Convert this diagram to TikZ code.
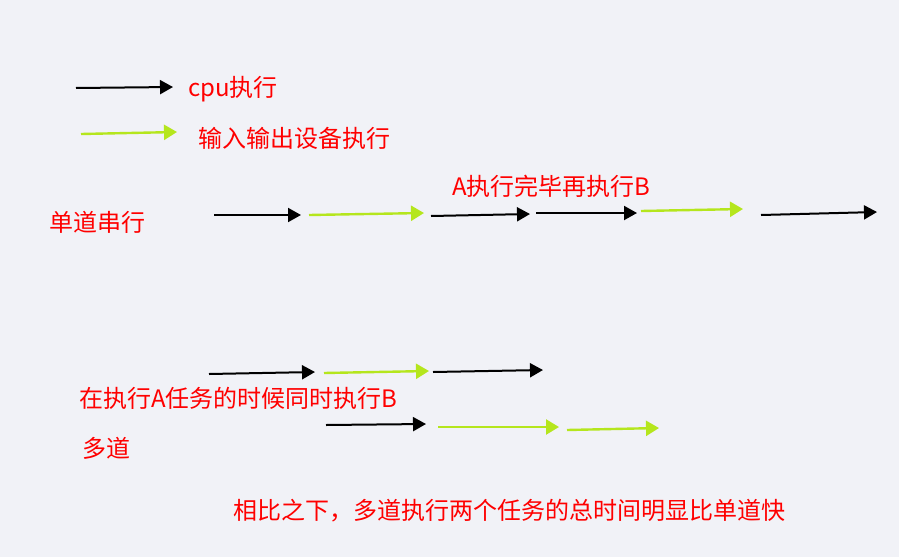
\documentclass[tikz,border=0pt]{standalone}
\usepackage{fontspec}
\newfontfamily\cjk{Noto Sans CJK SC}
\usetikzlibrary{arrows.meta}
\definecolor{bgcol}{HTML}{F1F2F7}
\definecolor{iogreen}{HTML}{B5E61D}
\tikzset{
  cpuarrow/.style={draw=black, line width=2pt, -{Triangle[length=13pt,width=14pt]}},
  ioarrow/.style={draw=iogreen, line width=2.4pt, -{Triangle[length=13pt,width=15pt]}, iogreen},
  note/.style={anchor=west, inner sep=0pt, text=red, font=\cjk\fontsize{24}{28}\selectfont}
}
\begin{document}
\begin{tikzpicture}[x=1pt, y=-1pt]
        \fill[bgcol] (0,0) rectangle (899,557);
        \useasboundingbox (0,0) rectangle (899,557);

        % Legend
        \draw[cpuarrow] (76,88) -- (173,87);
        \node[note] (cpu) at (188,89) {cpu执行};
        \draw[ioarrow] (81,134) -- (177,132);
        \node[note] (io) at (198,138) {输入输出设备执行};

        % Single channel, serial
        \node[note] (single) at (49,222) {单道串行};
        \node[note] (serial) at (452,186) {A执行完毕再执行B};
        \draw[cpuarrow] (214,215) -- (301,215);
        \draw[ioarrow] (309,215) -- (424,213);
        \draw[cpuarrow] (431,216) -- (530,214);
        \draw[cpuarrow] (536,213) -- (637,213);
        \draw[ioarrow] (641,211) -- (743,209);
        \draw[cpuarrow] (761,215) -- (877,212);

        % Multi channel, task A
        \draw[cpuarrow] (209,374) -- (315,372);
        \draw[ioarrow] (324,373) -- (429,371);
        \draw[cpuarrow] (433,372) -- (543,370);
        \node[note] (parallel) at (79,398) {在执行A任务的时候同时执行B};

        % Multi channel, task B
        \draw[cpuarrow] (326,425) -- (426,424);
        \draw[ioarrow] (438,427) -- (559,427);
        \draw[ioarrow] (567,430) -- (659,428);
        \node[note] (multi) at (82,448) {多道};

        % Conclusion
        \node[note] (summary) at (233,511) {相比之下，多道执行两个任务的总时间明显比单道快};
    \end{tikzpicture}
\end{document}
